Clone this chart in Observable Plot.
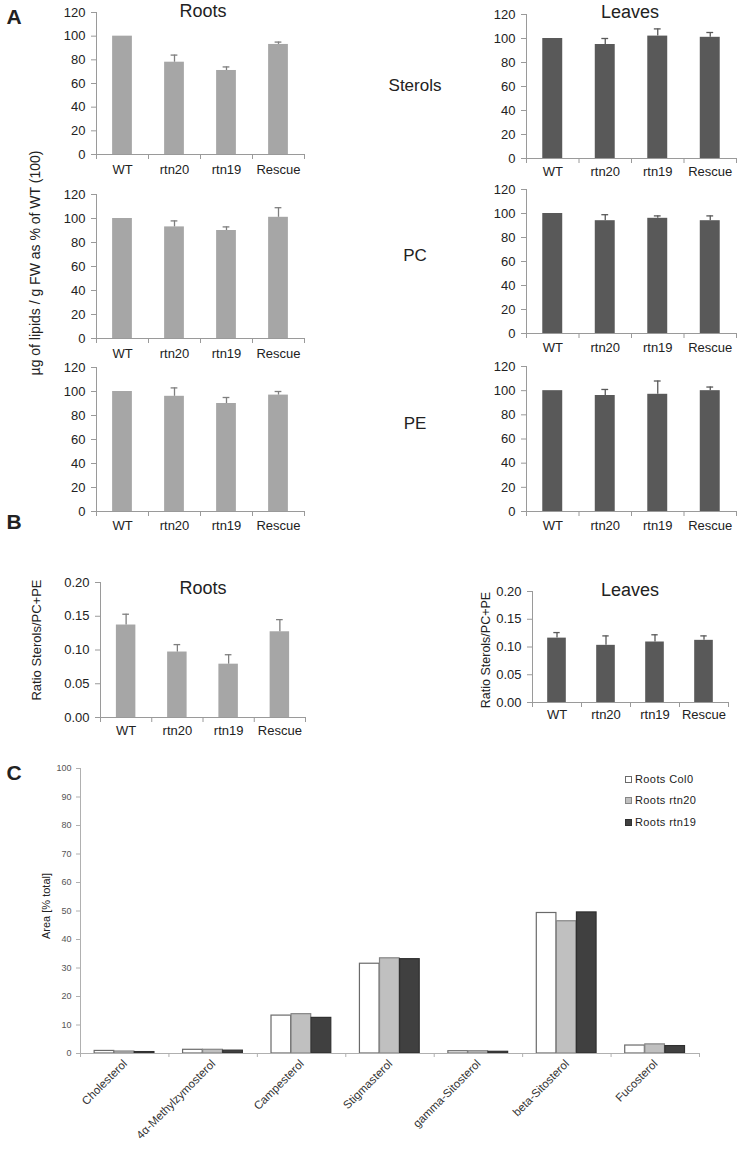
<!DOCTYPE html>
<html>
<head>
<meta charset="utf-8">
<script src="https://cdn.jsdelivr.net/npm/d3@7"></script>
<script src="https://cdn.jsdelivr.net/npm/@observablehq/plot@0.6"></script>
<style>
  html, body { margin: 0; padding: 0; background: #fff; }
  #root { position: relative; width: 738px; height: 1149px; overflow: hidden; font-family: "Liberation Sans", Arial, sans-serif; color: #222; }
  .lbl { position: absolute; white-space: nowrap; transform: translate(-50%, -50%); }
  .rot { position: absolute; white-space: nowrap; transform: translate(-50%, -50%) rotate(-90deg); }
  .letter { position: absolute; font-weight: bold; font-size: 21px; transform: translate(-50%, -50%); }
  .leg { position: absolute; font-size: 11px; letter-spacing: 0.4px; white-space: nowrap; display: flex; align-items: center; transform: translateY(-50%); }
  .sw { width: 7px; height: 7px; margin-right: 3px; box-sizing: border-box; }
</style>
</head>
<body>
<div id="root"></div>
<script>
// ---------- DATA ----------
const genotypes = ["WT", "rtn20", "rtn19", "Rescue"];

// Panel A (% of WT), means and top of error bar (WT has no error bar)
const rootsSterols    = [100, 78, 71, 93];
const rootsSterolsErr = [null, 84, 74, 95];
const rootsPC         = [100, 93, 90, 101];
const rootsPCErr      = [null, 98, 93, 109];
const rootsPE         = [100, 96, 90, 97];
const rootsPEErr      = [null, 103, 95, 100];

const leavesSterols    = [100, 95, 102, 101];
const leavesSterolsErr = [null, 100, 108, 105];
const leavesPC         = [100, 94, 96, 94];
const leavesPCErr      = [null, 99, 98, 98];
const leavesPE         = [100, 96, 97, 100];
const leavesPEErr      = [null, 101, 108, 103];

// Panel B ratio Sterols/PC+PE
const rootsRatio     = [0.137, 0.097, 0.079, 0.127];
const rootsRatioErr  = [0.153, 0.108, 0.093, 0.145];
const leavesRatio    = [0.116, 0.103, 0.109, 0.112];
const leavesRatioErr = [0.126, 0.120, 0.122, 0.120];

const pctTicks = [0, 20, 40, 60, 80, 100, 120];
const ratioTicks = [0, 0.05, 0.10, 0.15, 0.20];

// Panel C sterol composition
const sterols = ["Cholesterol", "4α-Methylzymosterol", "Campesterol", "Stigmasterol", "gamma-Sitosterol", "beta-Sitosterol", "Fucosterol"];
const seriesNames = ["Roots Col0", "Roots rtn20", "Roots rtn19"];
const col0Area  = [0.9, 1.3, 13.3, 31.5, 0.8, 49.3, 2.8];
const rtn20Area = [0.7, 1.3, 13.8, 33.4, 0.8, 46.4, 3.2];
const rtn19Area = [0.5, 1.0, 12.5, 33.1, 0.6, 49.5, 2.6];
const areaTicks = [0, 10, 20, 30, 40, 50, 60, 70, 80, 90, 100];

// ---------- LAYOUT HELPERS ----------
const root = document.getElementById("root");
const FONT = "'Liberation Sans', Arial, sans-serif";
function place(node, left, top) {
  node.style.position = "absolute";
  node.style.left = left + "px";
  node.style.top = top + "px";
  root.append(node);
}
function label(text, x, y, size, cls = "lbl") {
  const d = document.createElement("div");
  d.className = cls;
  d.textContent = text;
  d.style.left = x + "px";
  d.style.top = y + "px";
  if (size) d.style.fontSize = size + "px";
  root.append(d);
}

const ROOT_FILL = "#a6a6a6", ROOT_ERR = "#7f7f7f";
const LEAF_FILL = "#595959", LEAF_ERR = "#595959";
const AXIS = "#9a9a9a";

function barPanel(o) {
  const ML = 50, MR = 14, MT = 10, MB = 34;
  const n = genotypes.length;
  const rows = genotypes.map((c, i) => ({c, i, v: o.vals[i], e: o.errs[i]}));
  const errRows = rows.filter(d => d.e != null);
  const p = Plot.plot({
    width: o.x1 - o.x0 + ML + MR,
    height: o.yB - o.yT + MT + MB,
    marginLeft: ML, marginRight: MR, marginTop: MT, marginBottom: MB,
    style: {fontFamily: FONT, fontSize: "13px", color: "#222", background: "transparent", overflow: "visible"},
    x: {domain: [0, n], axis: null},
    y: {domain: o.ydom, axis: null},
    marks: [
      Plot.rectY(rows, {x1: d => d.i + 0.31, x2: d => d.i + 0.69, y1: 0, y2: "v", fill: o.fill}),
      Plot.ruleX(errRows, {x: d => d.i + 0.5, y1: "v", y2: "e", stroke: o.err, strokeWidth: 1.3}),
      Plot.ruleY(errRows, {y: "e", x1: d => d.i + 0.435, x2: d => d.i + 0.565, stroke: o.err, strokeWidth: 1.3}),
      Plot.ruleX([0], {stroke: AXIS}),
      Plot.ruleY([o.ydom[0]], {stroke: AXIS}),
      Plot.axisY({ticks: o.yticks, tickFormat: o.fmt, tickSize: 5, tickPadding: 6, stroke: AXIS, fill: "#222", label: null}),
      Plot.axisX({ticks: d3.range(n + 1), tickFormat: () => "", tickSize: 5, stroke: AXIS, label: null}),
      Plot.text(rows, {x: d => d.i + 0.5, frameAnchor: "bottom", dy: o.ldy || 19, text: "c", fill: "#222"})
    ]
  });
  place(p, o.x0 - ML, o.yT - MT);
}

// ---------- PANEL A ----------
const fmtInt = d3.format("d");
barPanel({vals: rootsSterols, errs: rootsSterolsErr, x0: 96, x1: 304, yT: 12, yB: 154, ydom: [0, 120], yticks: pctTicks, fmt: fmtInt, fill: ROOT_FILL, err: ROOT_ERR});
barPanel({vals: rootsPC, errs: rootsPCErr, x0: 96, x1: 304, yT: 194, yB: 338, ydom: [0, 120], yticks: pctTicks, fmt: fmtInt, fill: ROOT_FILL, err: ROOT_ERR});
barPanel({vals: rootsPE, errs: rootsPEErr, x0: 96, x1: 304, yT: 367, yB: 511, ydom: [0, 120], yticks: pctTicks, fmt: fmtInt, fill: ROOT_FILL, err: ROOT_ERR, ldy: 18});

barPanel({vals: leavesSterols, errs: leavesSterolsErr, x0: 526, x1: 736, yT: 14, yB: 158, ydom: [0, 120], yticks: pctTicks, fmt: fmtInt, fill: LEAF_FILL, err: LEAF_ERR, ldy: 17});
barPanel({vals: leavesPC, errs: leavesPCErr, x0: 526, x1: 736, yT: 189, yB: 333, ydom: [0, 120], yticks: pctTicks, fmt: fmtInt, fill: LEAF_FILL, err: LEAF_ERR, ldy: 18});
barPanel({vals: leavesPE, errs: leavesPEErr, x0: 526, x1: 736, yT: 366, yB: 511, ydom: [0, 120], yticks: pctTicks, fmt: fmtInt, fill: LEAF_FILL, err: LEAF_ERR, ldy: 18});

// ---------- PANEL B ----------
const fmt2 = d3.format(".2f");
barPanel({vals: rootsRatio, errs: rootsRatioErr, x0: 100, x1: 305, yT: 582, yB: 717, ydom: [0, 0.2], yticks: ratioTicks, fmt: fmt2, fill: ROOT_FILL, err: ROOT_ERR, ldy: 17});
barPanel({vals: leavesRatio, errs: leavesRatioErr, x0: 532, x1: 728, yT: 591, yB: 702, ydom: [0, 0.2], yticks: ratioTicks, fmt: fmt2, fill: LEAF_FILL, err: LEAF_ERR, ldy: 16});

// ---------- PANEL C ----------
(function () {
  const x0 = 80, x1 = 699, yT = 768, yB = 1053;
  const ML = 40, MR = 20, MT = 10, MB = 120;
  const n = sterols.length;
  const seriesVals = [col0Area, rtn20Area, rtn19Area];
  const fills = ["#ffffff", "#c0c0c0", "#404040"];
  const strokes = ["#6a6a6a", "#858585", "#303030"];
  const rows = [];
  seriesVals.forEach((vals, k) => sterols.forEach((s, i) => rows.push({s, i, k, v: vals[i], name: seriesNames[k]})));
  const catRows = sterols.map((s, i) => ({s, i}));
  const p = Plot.plot({
    width: x1 - x0 + ML + MR,
    height: yB - yT + MT + MB,
    marginLeft: ML, marginRight: MR, marginTop: MT, marginBottom: MB,
    style: {fontFamily: FONT, fontSize: "9px", color: "#444", background: "transparent", overflow: "visible"},
    x: {domain: [0, n], axis: null},
    y: {domain: [0, 100], axis: null},
    marks: [
      Plot.rectY(rows, {
        x1: d => d.i + 0.16 + d.k * 0.227,
        x2: d => d.i + 0.16 + d.k * 0.227 + 0.222,
        y1: 0, y2: "v",
        fill: d => fills[d.k], stroke: d => strokes[d.k], strokeWidth: 1.2
      }),
      Plot.ruleX([0], {stroke: "#b0b0b0"}),
      Plot.ruleY([0], {stroke: "#b0b0b0"}),
      Plot.axisY({ticks: areaTicks, tickSize: 4, tickPadding: 5, stroke: "#b0b0b0", fill: "#555", fontSize: 9, label: null}),
      Plot.axisX({ticks: d3.range(n + 1), tickFormat: () => "", tickSize: 4, stroke: "#b0b0b0", label: null}),
      Plot.text(catRows, {x: d => d.i + 0.5, frameAnchor: "bottom", dy: 11, dx: 3, rotate: -45, textAnchor: "end", text: "s", fill: "#333", fontSize: 11.5})
    ]
  });
  place(p, x0 - ML, yT - MT);
})();

// Legend for C
const legFills = ["#ffffff", "#c0c0c0", "#404040"];
const legStrokes = ["#6a6a6a", "#858585", "#303030"];
[779, 800, 822].forEach((y, k) => {
  const d = document.createElement("div");
  d.className = "leg";
  d.style.left = "625px";
  d.style.top = y + "px";
  const sw = document.createElement("div");
  sw.className = "sw";
  sw.style.background = legFills[k];
  sw.style.border = "1px solid " + legStrokes[k];
  d.append(sw);
  d.append(document.createTextNode(seriesNames[k]));
  root.append(d);
});

// ---------- TEXT ----------
label("A", 14, 17, null, "letter");
label("B", 14, 522, null, "letter");
label("C", 14, 773, null, "letter");

label("Roots", 203, 11, 18);
label("Leaves", 630, 12, 18);
label("Sterols", 415, 86, 17);
label("PC", 415, 256, 17);
label("PE", 415, 424, 17);
label("Roots", 203, 588, 18);
label("Leaves", 630, 590, 18);

label("µg of lipids / g FW as % of WT (100)", 35, 263, 14, "rot");
label("Ratio Sterols/PC+PE", 36, 640, 13, "rot");
label("Ratio Sterols/PC+PE", 486, 650, 12.5, "rot");
label("Area [% total]", 46, 906, 11, "rot");
</script>
</body>
</html>
